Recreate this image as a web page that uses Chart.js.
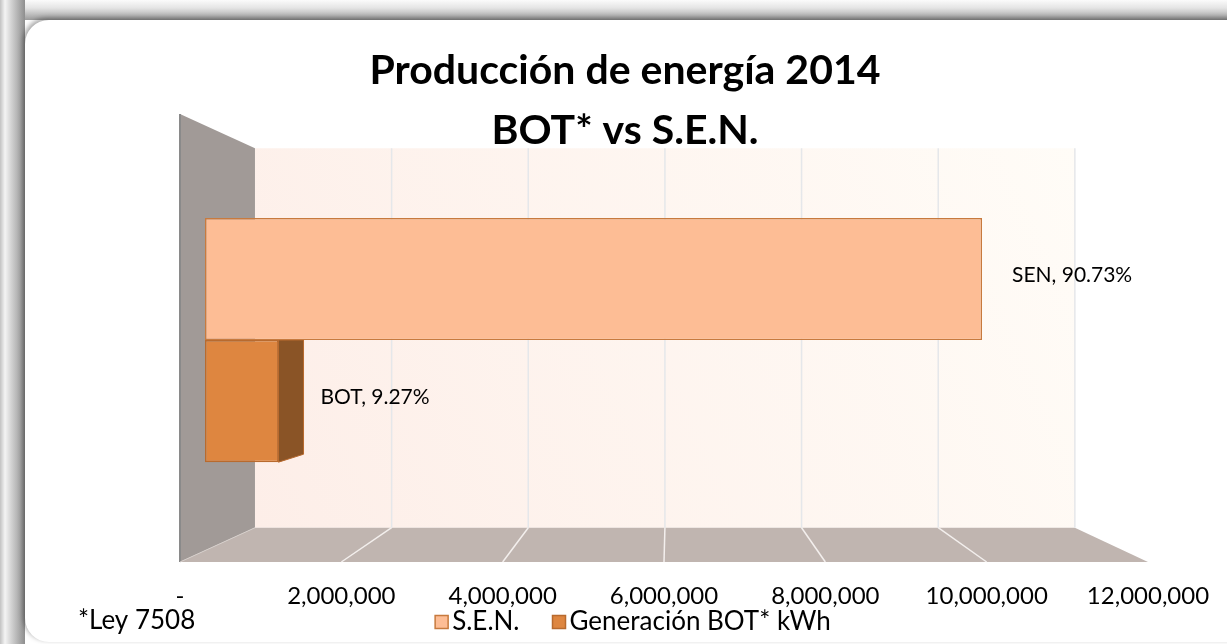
<!DOCTYPE html>
<html>
<head>
<meta charset="utf-8">
<script src="https://cdn.jsdelivr.net/npm/chart.js@4.4.1/dist/chart.umd.min.js"></script>
<style>
  html, body { margin: 0; padding: 0; background: #fff; overflow: hidden; }
  #frame {
    position: absolute; left: 0; top: 0; width: 1227px; height: 644px; overflow: hidden;
    background:
      linear-gradient(to right, #c2c2c2 0px, #f4f4f4 5px, #d4d4d4 11px, #8e8e8e 25px) left top / 25px 100% no-repeat,
      linear-gradient(to bottom, #fbfbfb 0px, #e4e4e4 8px, #9b9b9b 20px) left top / 100% 20px no-repeat,
      #fff;
  }
  #panel {
    position: absolute; left: 25px; top: 20px; width: 1260px; height: 622px;
    background: #fff; border-radius: 24px;
    box-shadow: -2px -2px 5px rgba(0,0,0,.35);
  }
  #c { position: absolute; left: 0; top: 0; }
</style>
</head>
<body>
<div id="frame">
  <div id="panel"></div>
  <canvas id="c" width="1227" height="644"></canvas>
</div>
<script>
/* Producción de energía 2014 – BOT vs S.E.N. (3D bar look) */

const categories = ['2014'];
const seriesNames = ['S.E.N.', 'Generación BOT* kWh'];
const senKwh = [10150000];
const botKwh = [960000];
const labelNames = ['SEN', 'BOT'];
const labelShares = ['90.73%', '9.27%'];
const axisMin = 0;
const axisMax = 12000000;
const axisStep = 2000000;
const titleLines = ['Producción de energía 2014', 'BOT* vs S.E.N.'];
const footnote = '*Ley 7508';

// styles
const barFills = ['#fdbd95', '#de8640'];
const barBorders = ['#c77a3e', '#b86a2e'];
const sideFills = ['#c98a5e', '#8a5426'];

// 3D room: the chart area is the front plane, depth d (0 front .. 1 back wall) shrinks toward VP
const VP = { x: 670, y: 338 };
const SHRINK = 0.153;
const WALL_TOP = 114, FLOOR_Y = 562;
const BAR_FRONT = 1 / 3, BAR_BACK = 0.73;

function proj(x, y, d) {
  const s = 1 - SHRINK * d;
  return [VP.x + (x - VP.x) * s, VP.y + (y - VP.y) * s];
}

function poly(ctx, pts, fill, stroke, lw) {
  ctx.beginPath();
  pts.forEach((p, i) => i ? ctx.lineTo(p[0], p[1]) : ctx.moveTo(p[0], p[1]));
  ctx.closePath();
  if (fill) { ctx.fillStyle = fill; ctx.fill(); }
  if (stroke) { ctx.strokeStyle = stroke; ctx.lineWidth = lw || 1; ctx.stroke(); }
}

function line(ctx, a, b, color, lw) {
  ctx.beginPath(); ctx.moveTo(a[0], a[1]); ctx.lineTo(b[0], b[1]);
  ctx.strokeStyle = color; ctx.lineWidth = lw; ctx.stroke();
}

function barBox(el) {
  const right = Math.max(el.x, el.base);
  return { right, top: el.y - el.height / 2, bottom: el.y + el.height / 2, mid: el.y };
}

const room = {
  id: 'room',
  beforeDatasetsDraw(chart) {
    const ctx = chart.ctx, xs = chart.scales.x;
    const l = xs.getPixelForValue(axisMin), r = xs.getPixelForValue(axisMax);
    ctx.save();

    // back wall
    const bw = [proj(l, WALL_TOP, 1), proj(r, WALL_TOP, 1), proj(r, FLOOR_Y, 1), proj(l, FLOOR_Y, 1)];
    const g = ctx.createLinearGradient(bw[3][0], bw[3][1], bw[1][0], bw[1][1]);
    g.addColorStop(0, '#fdeee8');
    g.addColorStop(1, '#fffcf7');
    poly(ctx, bw, g);

    // floor
    poly(ctx, [proj(l, FLOOR_Y, 0), proj(r, FLOOR_Y, 0), proj(r, FLOOR_Y, 1), proj(l, FLOOR_Y, 1)], '#c0b5b0');

    // grid on wall + floor
    xs.ticks.forEach(t => {
      if (t.value === axisMin) return;
      const x = xs.getPixelForValue(t.value);
      line(ctx, proj(x, WALL_TOP, 1), proj(x, FLOOR_Y, 1), '#e5e7ea', 1.5);
      if (t.value !== axisMax) line(ctx, proj(x, FLOOR_Y, 0), proj(x, FLOOR_Y, 1), '#f3efed', 1.5);
    });

    // side wall
    poly(ctx, [proj(l, WALL_TOP, 0), proj(l, WALL_TOP, 1), proj(l, FLOOR_Y, 1), proj(l, FLOOR_Y, 0)], '#a19a97');
    line(ctx, proj(l, WALL_TOP, 0), proj(l, FLOOR_Y, 0), '#8a8a8a', 2);
    line(ctx, proj(l, FLOOR_Y, 0), proj(l, FLOOR_Y, 1), '#d6cfcb', 1);

    // visible right faces of the bars
    chart.data.datasets.forEach((ds, i) => {
      const el = chart.getDatasetMeta(i).data[0];
      if (!el) return;
      const b = barBox(el);
      if (b.right >= VP.x) return;
      poly(ctx, [proj(b.right, b.top, BAR_FRONT), proj(b.right, b.top, BAR_BACK),
                 proj(b.right, b.bottom, BAR_BACK), proj(b.right, b.bottom, BAR_FRONT)],
           sideFills[i], barBorders[i], 1);
    });
    ctx.restore();

    // bars themselves are drawn on the plane at BAR_FRONT depth
    const s = 1 - SHRINK * BAR_FRONT;
    ctx.save();
    ctx.translate(VP.x, VP.y);
    ctx.scale(s, s);
    ctx.translate(-VP.x, -VP.y);
  },
  afterDatasetsDraw(chart) {
    const ctx = chart.ctx;
    ctx.restore();
    ctx.save();
    ctx.font = '21px Lato';
    ctx.fillStyle = '#000';
    ctx.textAlign = 'left';
    ctx.textBaseline = 'middle';
    chart.data.datasets.forEach((ds, i) => {
      const el = chart.getDatasetMeta(i).data[0];
      if (!el) return;
      const b = barBox(el);
      const front = proj(b.right, b.mid, BAR_FRONT);
      const hasSide = b.right < VP.x;
      const x = hasSide ? proj(b.right, b.bottom, BAR_BACK)[0] + 17 : front[0] + 30;
      ctx.fillText(labelNames[i] + ', ' + labelShares[i], x, front[1] - 4);
    });
    ctx.restore();
  },
  afterDraw(chart) {
    const ctx = chart.ctx;
    ctx.save();
    ctx.fillStyle = '#000';
    ctx.textAlign = 'left';
    ctx.textBaseline = 'middle';
    ctx.font = '26px Lato';
    ctx.fillText(footnote, 78, 621);

    // legend
    const dss = chart.data.datasets;
    const box = 13, boxGap = 4, itemGap = 33, ly = 622;
    const widths = dss.map(d => ctx.measureText(d.label).width);
    const total = widths.reduce((s, w) => s + box + boxGap + w, 0) + itemGap * (dss.length - 1);
    let x = (chart.chartArea.left + chart.chartArea.right) / 2 - total / 2 - 31;
    dss.forEach((d, i) => {
      ctx.fillStyle = d.backgroundColor;
      ctx.fillRect(x, ly - box / 2, box, box);
      ctx.strokeStyle = d.borderColor;
      ctx.lineWidth = 1.5;
      ctx.strokeRect(x, ly - box / 2, box, box);
      ctx.fillStyle = '#000';
      ctx.fillText(d.label, x + box + boxGap, ly);
      x += box + boxGap + widths[i] + itemGap;
    });
    ctx.restore();
  }
};

Chart.defaults.font.family = 'Lato';

new Chart(document.getElementById('c'), {
  type: 'bar',
  data: {
    labels: categories,
    datasets: [
      { label: seriesNames[0], data: senKwh, backgroundColor: barFills[0], borderColor: barBorders[0], borderWidth: 1.5, borderSkipped: false },
      { label: seriesNames[1], data: botKwh, backgroundColor: barFills[1], borderColor: barBorders[1], borderWidth: 1.5, borderSkipped: false }
    ]
  },
  options: {
    indexAxis: 'y',
    responsive: false,
    animation: false,
    layout: { padding: { left: 102, right: 79, top: 0, bottom: 0 } },
    datasets: { bar: { categoryPercentage: 0.8, barPercentage: 1, clip: false } },
    scales: {
      x: {
        min: axisMin, max: axisMax,
        grid: { display: false, drawTicks: true, tickLength: 80 },
        border: { display: false },
        ticks: {
          stepSize: axisStep, maxRotation: 0, autoSkip: false, padding: 0.5,
          color: '#000', font: { size: 24 },
          callback: v => v === 0 ? '-' : v.toLocaleString('en-US')
        },
        afterFit: s => { s.height = 143; }
      },
      y: {
        grid: { display: false },
        border: { display: false },
        ticks: { display: false },
        afterFit: s => { s.width = 78; }
      }
    },
    plugins: {
      title: {
        display: true, text: titleLines, color: '#000',
        font: { size: 41, weight: 'bold', lineHeight: 60 / 41 },
        padding: { top: 41, bottom: 18.4 }
      },
      legend: { display: false },
      tooltip: { enabled: false }
    }
  },
  plugins: [room]
});
</script>
</body>
</html>
